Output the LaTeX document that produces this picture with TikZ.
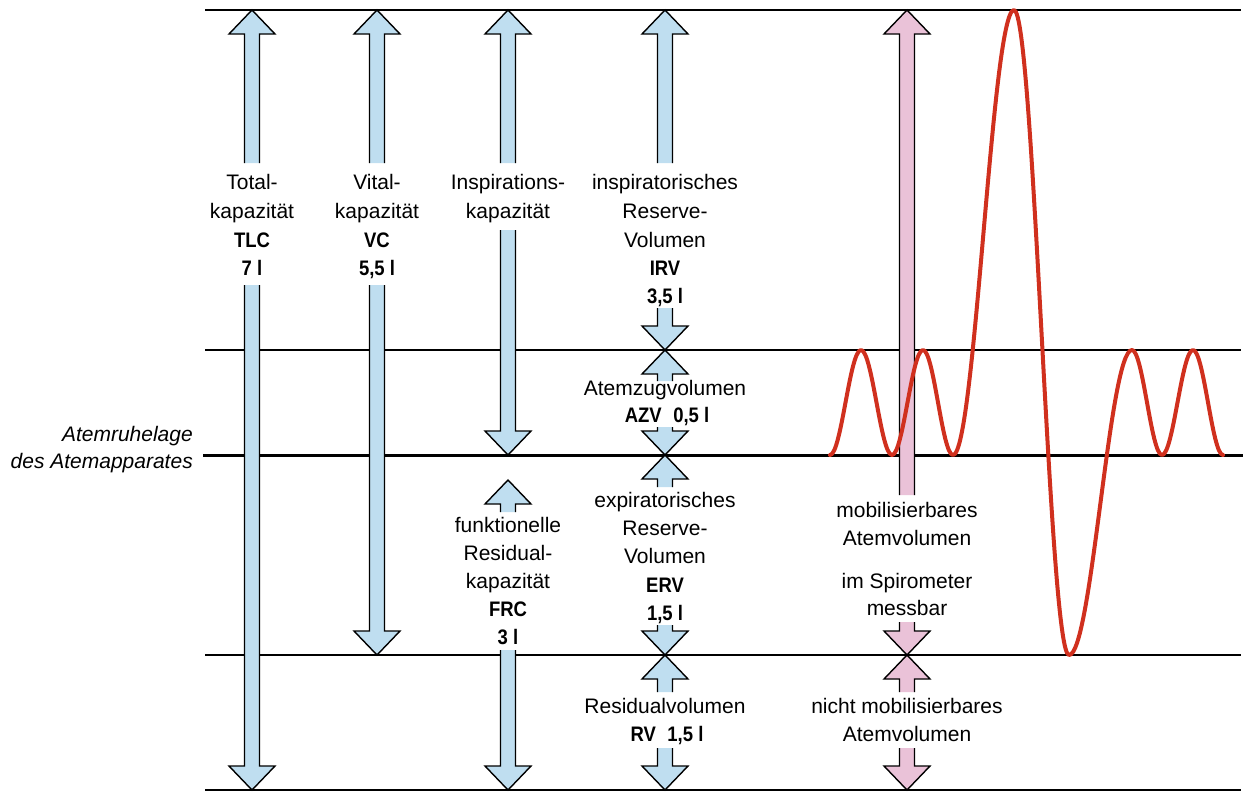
\documentclass[tikz,border=0pt]{standalone}
\usepackage{fontspec}
\setmainfont{Liberation Sans}
\newfontfamily\bcond{Liberation Sans}[FakeStretch=0.88]
\definecolor{ablue}{RGB}{191,222,240}
\definecolor{apink}{RGB}{234,194,216}
\definecolor{wavered}{RGB}{208,48,30}
\tikzset{
  hline/.style={line width=1.5pt, black},
  restline/.style={line width=3pt, black},
  aline/.style={line width=1.4pt, black},
  txt/.style={inner sep=0pt, anchor=base, font=\fontsize{21}{28}\selectfont},
  btxt/.style={inner sep=0pt, anchor=base, font=\fontsize{21}{28}\selectfont\bcond\bfseries},
  itxt/.style={inner sep=0pt, anchor=base east, font=\fontsize{21}{28}\selectfont\itshape},
  wavestyle/.style={line width=4pt, wavered, line cap=round, line join=round}
}
% #1 colour, #2 x, #3 tip y, #4 open end y (image coordinates, y downward)
\newcommand{\UpArr}[4]{%
  \fill[#1] (#2,#3) -- (#2+23,#3+24) -- (#2+7.5,#3+24) -- (#2+7.5,#4) -- (#2-7.5,#4) -- (#2-7.5,#3+24) -- (#2-23,#3+24) -- cycle;
  \draw[aline] (#2+7.5,#4) -- (#2+7.5,#3+24) -- (#2+23,#3+24) -- (#2,#3) -- (#2-23,#3+24) -- (#2-7.5,#3+24) -- (#2-7.5,#4);}
\newcommand{\DownArr}[4]{%
  \fill[#1] (#2,#3) -- (#2+23,#3-24) -- (#2+7.5,#3-24) -- (#2+7.5,#4) -- (#2-7.5,#4) -- (#2-7.5,#3-24) -- (#2-23,#3-24) -- cycle;
  \draw[aline] (#2+7.5,#4) -- (#2+7.5,#3-24) -- (#2+23,#3-24) -- (#2,#3) -- (#2-23,#3-24) -- (#2-7.5,#3-24) -- (#2-7.5,#4);}
\begin{document}
\begin{tikzpicture}[x=1pt,y=-1pt]
\useasboundingbox (0,0) rectangle (1244,793);
% horizontal levels
\draw[hline] (205,10) -- (1241,10);
\draw[hline] (205,350) -- (1241,350);
\draw[restline] (203,455) -- (1243,455);
\draw[hline] (205,655) -- (1241,655);
\draw[hline] (205,790) -- (1241,790);
% left label
\node[itxt] (rl1) at (193,441) {Atemruhelage};
\node[itxt] (rl2) at (193,468) {des Atemapparates};
% TLC
\UpArr{ablue}{252}{10}{163}
\DownArr{ablue}{252}{790}{285}
\node[txt] (tlc1) at (252,189) {Total-};
\node[txt] (tlc2) at (252,218) {kapazität};
\node[btxt] (tlc3) at (252,247) {TLC};
\node[btxt] (tlc4) at (252,275) {7 l};
% VC
\UpArr{ablue}{377}{10}{163}
\DownArr{ablue}{377}{655}{285}
\node[txt] (vc1) at (377,189) {Vital-};
\node[txt] (vc2) at (377,218) {kapazität};
\node[btxt] (vc3) at (377,247) {VC};
\node[btxt] (vc4) at (377,275) {5,5 l};
% Inspirationskapazitaet
\UpArr{ablue}{508}{10}{163}
\DownArr{ablue}{508}{455}{230}
\node[txt] (ic1) at (508,189) {Inspirations-};
\node[txt] (ic2) at (508,218) {kapazität};
% FRC
\UpArr{ablue}{508}{480}{512}
\DownArr{ablue}{508}{790}{650}
\node[txt] (frc1) at (508,532) {funktionelle};
\node[txt] (frc2) at (508,560) {Residual-};
\node[txt] (frc3) at (508,588) {kapazität};
\node[btxt] (frc4) at (508,616) {FRC};
\node[btxt] (frc5) at (508,644) {3 l};
% IRV
\UpArr{ablue}{665}{10}{163}
\DownArr{ablue}{665}{350}{308}
\node[txt] (irv1) at (665,189) {inspiratorisches};
\node[txt] (irv2) at (665,218) {Reserve-};
\node[txt] (irv3) at (665,247) {Volumen};
\node[btxt] (irv4) at (665,275) {IRV};
\node[btxt] (irv5) at (665,303) {3,5 l};
% AZV
\UpArr{ablue}{665}{350}{381}
\DownArr{ablue}{665}{455}{427}
\node[txt] (azv1) at (665,395) {Atemzugvolumen};
\node[btxt] (azv2) at (667,422) {AZV\hspace{0.55em}0,5 l};
% ERV
\UpArr{ablue}{665}{455}{487}
\DownArr{ablue}{665}{655}{625}
\node[txt] (erv1) at (665,507) {expiratorisches};
\node[txt] (erv2) at (665,535) {Reserve-};
\node[txt] (erv3) at (665,563) {Volumen};
\node[btxt] (erv4) at (665,592) {ERV};
\node[btxt] (erv5) at (665,620) {1,5 l};
% RV
\UpArr{ablue}{665}{655}{692}
\DownArr{ablue}{665}{790}{748}
\node[txt] (rv1) at (665,713) {Residualvolumen};
\node[btxt] (rv2) at (667,741) {RV\hspace{0.55em}1,5 l};
% mobilisierbares Atemvolumen (pink)
\UpArr{apink}{907}{10}{495}
\DownArr{apink}{907}{655}{622}
\UpArr{apink}{907}{655}{692}
\DownArr{apink}{907}{790}{748}
\node[txt] (mob1) at (907,517) {mobilisierbares};
\node[txt] (mob2) at (907,545) {Atemvolumen};
\node[txt] (mob3) at (907,588) {im Spirometer};
\node[txt] (mob4) at (907,615) {messbar};
\node[txt] (nmob1) at (907,713) {nicht mobilisierbares};
\node[txt] (nmob2) at (907,741) {Atemvolumen};
% spirogram curve
\draw[wavestyle] (830,455)
  .. controls (841.3,455) and (849.7,350) .. (861,350)
  .. controls (872.3,350) and (880.7,455) .. (892,455)
  .. controls (903.3,455) and (911.7,350) .. (923,350)
  .. controls (933.9,350) and (942.1,455) .. (953,455)
  .. controls (975.2,455) and (991.8,10) .. (1014,10)
  .. controls (1034,10) and (1049,655) .. (1069,655)
  .. controls (1091.9,655) and (1109.1,350) .. (1132,350)
  .. controls (1142.9,350) and (1151.1,455) .. (1162,455)
  .. controls (1173.3,455) and (1181.7,350) .. (1193,350)
  .. controls (1203.9,350) and (1212.1,455) .. (1223,455);
\end{tikzpicture}
\end{document}
